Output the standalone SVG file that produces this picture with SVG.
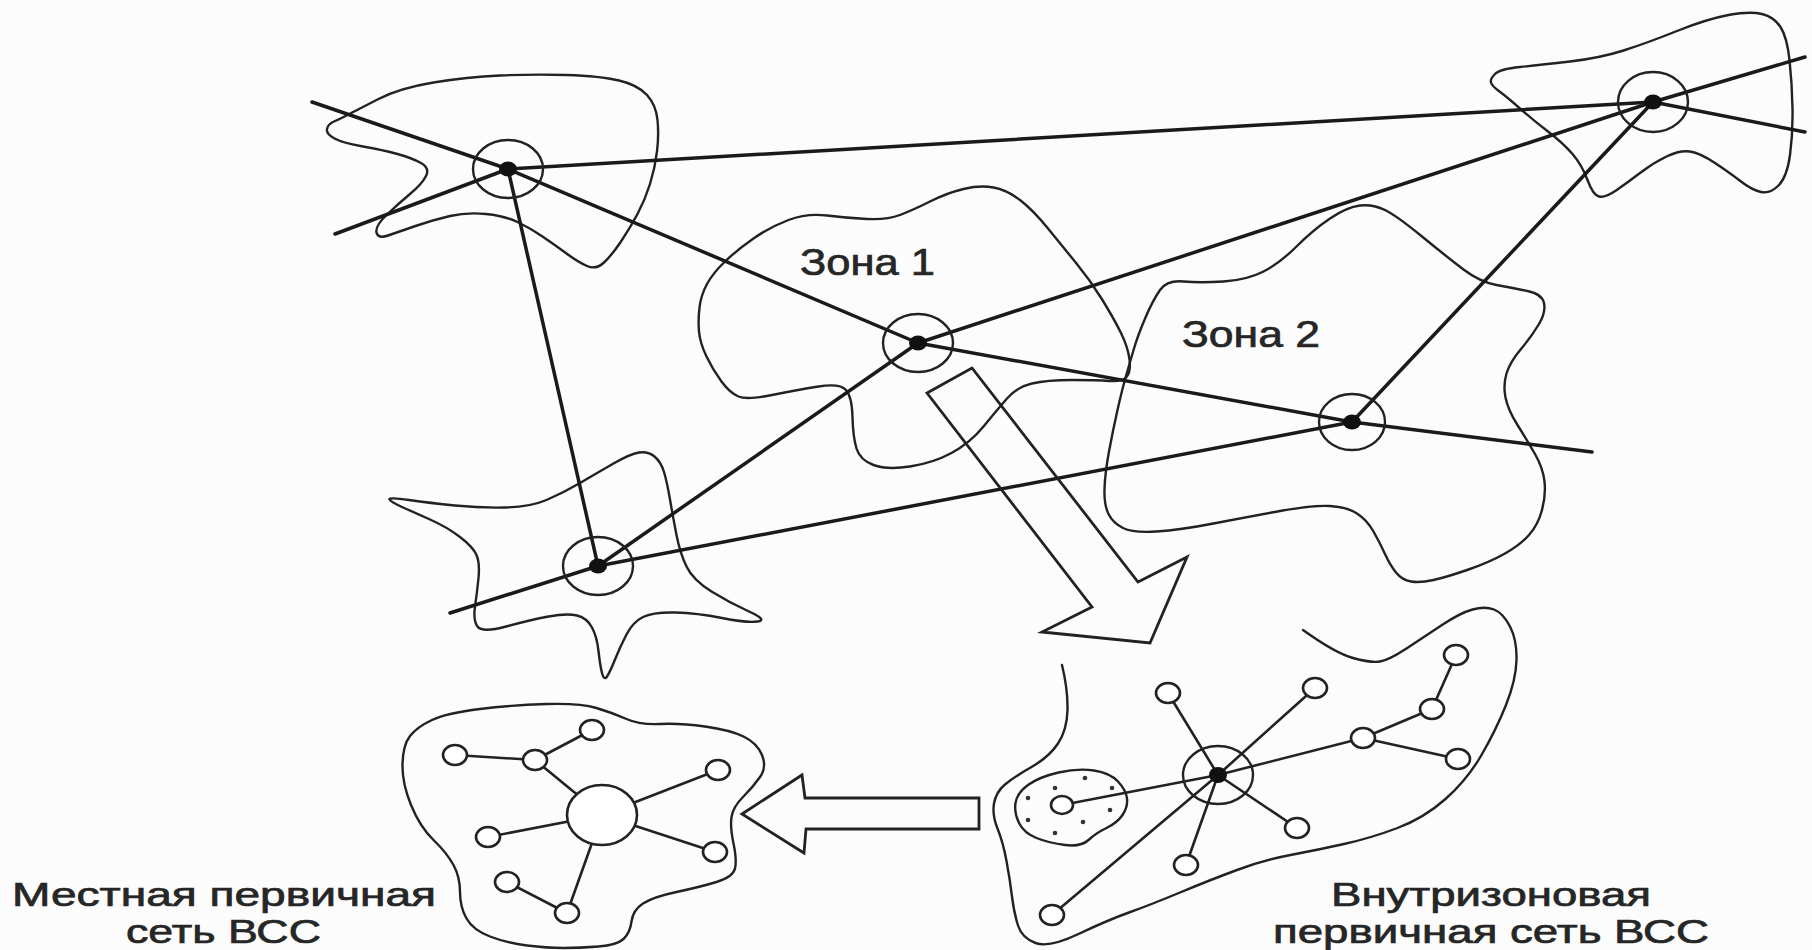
<svg xmlns="http://www.w3.org/2000/svg" width="1812" height="950" viewBox="0 0 1812 950">
<defs>
<style>
.bg{fill:#fcfcfc}
.zone{fill:none;stroke:#222;stroke-width:2.4;stroke-linejoin:round;stroke-linecap:round}
.link{fill:none;stroke:#1a1a1a;stroke-width:3.5;stroke-linecap:round}
.ring{fill:none;stroke:#222;stroke-width:2.4}
.dot{fill:#111}
.net{fill:none;stroke:#222;stroke-width:2.6;stroke-linecap:round}
.sat{fill:#fff;stroke:#222;stroke-width:2.6}
.arrow{fill:none;stroke:#222;stroke-width:2.8;stroke-linejoin:miter}
.pt{fill:#333}
.lbl{font-family:"Liberation Sans",Arial,sans-serif;fill:#262626;stroke:#262626;stroke-width:0.7}
</style>
</defs>
<rect class="bg" x="0" y="0" width="1812" height="950"/>

<g id="zones">
<path id="zone-nw" class="zone" d="M334,121.5 Q340,119 348.5,114.5 Q357,110 378.5,99 Q400,88 433.5,82.5 Q467,77 500,75.5 Q533,74 566.5,75 Q600,76 619,80.5 Q638,85 647,95 Q656,105 657.5,120 Q659,135 657,151.5 Q655,168 650,184 Q645,200 637.5,214 Q630,228 621,241.5 Q612,255 604,262.5 Q596,270 587,266 Q578,262 566.5,253.5 Q555,245 542.5,236.5 Q530,228 517.5,222 Q505,216 486,214 Q467,212 450,216 Q433,220 415.5,226 Q398,232 388,235.5 Q378,239 376.5,232.5 Q375,226 386.5,215 Q398,204 410,194 Q422,184 426,176 Q430,168 421,163 Q412,158 397.5,154 Q383,150 363,146.5 Q343,143 334.5,138.5 Q326,134 327,129 Q328,124 334,121.5 Z"/>
<path id="zone-ne" class="zone" d="M1491,82.5 Q1490,79 1495,74 Q1500,69 1520,67 Q1540,65 1570,61.5 Q1600,58 1623.5,50.5 Q1647,43 1677,31 Q1707,19 1728.5,15 Q1750,11 1762,14 Q1774,17 1780.5,27 Q1787,37 1789.5,60 Q1792,83 1792.5,108 Q1793,133 1790,155 Q1787,177 1778.5,185.5 Q1770,194 1761,192 Q1752,190 1741,181.5 Q1730,173 1715,163 Q1700,153 1690,151.5 Q1680,150 1666.5,156.5 Q1653,163 1640,173 Q1627,183 1616,190.5 Q1605,198 1599,196.5 Q1593,195 1587.5,180 Q1582,165 1572.5,154 Q1563,143 1548,131.5 Q1533,120 1520,108.5 Q1507,97 1499.5,91.5 Q1492,86 1491,82.5 Z"/>
<path id="zone-1" class="zone" d="M699,331.5 Q698,320 699.5,307.5 Q701,295 707,284 Q713,273 725,261.5 Q737,250 753.5,238.5 Q770,227 788.5,220 Q807,213 827,215.5 Q847,218 867,219 Q887,220 900,215 Q913,210 930,201.5 Q947,193 963.5,189 Q980,185 993.5,187.5 Q1007,190 1020,200 Q1033,210 1048,228.5 Q1063,247 1076.5,263.5 Q1090,280 1101.5,298.5 Q1113,317 1120.5,332 Q1128,347 1129.5,359.5 Q1131,372 1126.5,377 Q1122,382 1109.5,381 Q1097,380 1072,380 Q1047,380 1032,383.5 Q1017,387 1007,398.5 Q997,410 983.5,426.5 Q970,443 951.5,453 Q933,463 910,466.5 Q887,470 873.5,465 Q860,460 856.5,448.5 Q853,437 852.5,417 Q852,397 846,390 Q840,383 818.5,386.5 Q797,390 772,395 Q747,400 738.5,396.5 Q730,393 721.5,381.5 Q713,370 706.5,356.5 Q700,343 699,331.5 Z"/>
<path id="zone-2" class="zone" d="M1160,290 Q1167,280 1183.5,281.5 Q1200,283 1223.5,281.5 Q1247,280 1263.5,271.5 Q1280,263 1296.5,246.5 Q1313,230 1330,218.5 Q1347,207 1360,205.5 Q1373,204 1385,210 Q1397,216 1422,236.5 Q1447,257 1463.5,269.5 Q1480,282 1496.5,285 Q1513,288 1527.5,291 Q1542,294 1544,303 Q1546,312 1539,324 Q1532,336 1521,349 Q1510,362 1506.5,373.5 Q1503,385 1505.5,397.5 Q1508,410 1517.5,425 Q1527,440 1535,454 Q1543,468 1544.5,481.5 Q1546,495 1542,510 Q1538,525 1529,535 Q1520,545 1505,553.5 Q1490,562 1468.5,569.5 Q1447,577 1433.5,580 Q1420,583 1411,581.5 Q1402,580 1396,572.5 Q1390,565 1385,554 Q1380,543 1373.5,531.5 Q1367,520 1357,513.5 Q1347,507 1330,506 Q1313,505 1280,511 Q1247,517 1213.5,523.5 Q1180,530 1156.5,531.5 Q1133,533 1123,528 Q1113,523 1108.5,514 Q1104,505 1104.5,489 Q1105,473 1109,451.5 Q1113,430 1117.5,410 Q1122,390 1126,376 Q1130,362 1134,348.5 Q1138,335 1145.5,317.5 Q1153,300 1160,290 Z"/>
<path id="zone-star" class="zone" d="M389.5,499.5 Q388,497 409,500 Q430,503 455,505.5 Q480,508 505,507.5 Q530,507 546.5,500 Q563,493 580,483 Q597,473 613.5,463.5 Q630,454 639,452.5 Q648,451 654.5,456.5 Q661,462 664,472 Q667,482 670,499.5 Q673,517 676.5,535 Q680,553 686.5,566.5 Q693,580 711.5,591.5 Q730,603 749,611.5 Q768,620 757.5,621.5 Q747,623 722,618 Q697,613 675,612.5 Q653,612 643,617 Q633,622 626.5,634.5 Q620,647 615,659.5 Q610,672 607,676.5 Q604,681 602,673 Q600,665 598.5,651 Q597,637 592,627.5 Q587,618 577,615.5 Q567,613 548.5,616.5 Q530,620 506,626.5 Q482,633 477.5,626.5 Q473,620 475,606.5 Q477,593 478.5,578 Q480,563 476.5,555 Q473,547 460,537 Q447,527 430,519.5 Q413,512 402,507 Q391,502 389.5,499.5 Z"/>
</g>

<g id="connectors">
<line class="link" x1="312" y1="102" x2="508" y2="169"/>
<line class="link" x1="335" y1="234" x2="508" y2="169"/>
<line class="link" x1="508" y1="169" x2="1653" y2="102"/>
<line class="link" x1="508" y1="169" x2="598" y2="566"/>
<line class="link" x1="508" y1="169" x2="918" y2="343"/>
<line class="link" x1="918" y1="343" x2="1653" y2="102"/>
<line class="link" x1="918" y1="343" x2="1352" y2="422"/>
<line class="link" x1="1352" y1="422" x2="1592" y2="452"/>
<line class="link" x1="1352" y1="422" x2="1653" y2="102"/>
<line class="link" x1="598" y1="566" x2="918" y2="343"/>
<line class="link" x1="598" y1="566" x2="1352" y2="422"/>
<line class="link" x1="450" y1="613" x2="598" y2="566"/>
<line class="link" x1="1653" y1="102" x2="1805" y2="57"/>
<line class="link" x1="1653" y1="102" x2="1805" y2="132"/>
</g>

<g id="node-nw"><ellipse class="ring" cx="508" cy="169" rx="35" ry="29"/><ellipse class="dot" cx="508" cy="169" rx="9" ry="7.5"/></g>
<g id="node-zone1"><ellipse class="ring" cx="918" cy="343" rx="35" ry="29"/><ellipse class="dot" cx="918" cy="343" rx="9" ry="7.5"/></g>
<g id="node-zone2"><ellipse class="ring" cx="1352" cy="422" rx="33" ry="28"/><ellipse class="dot" cx="1352" cy="422" rx="9" ry="7.5"/></g>
<g id="node-star"><ellipse class="ring" cx="598" cy="566" rx="35" ry="29"/><ellipse class="dot" cx="598" cy="566" rx="9" ry="7.5"/></g>
<g id="node-ne"><ellipse class="ring" cx="1653" cy="102" rx="35" ry="30"/><ellipse class="dot" cx="1653" cy="102" rx="9" ry="7.5"/></g>

<g id="arrow-down">
<polygon class="arrow" points="927,393 972,368 1138,582 1187,557 1150,643 1042,632 1092,607"/>
</g>
<g id="arrow-left">
<polygon class="arrow" points="742,814 802,775 805,798 979,798 979,829 806,829 804,853"/>
</g>

<g id="local-net">
<path class="zone" d="M402.5,764 Q403,745 410,736 Q417,727 432,720 Q447,713 480,709 Q513,705 546.5,704 Q580,703 596.5,708 Q613,713 626.5,719 Q640,725 660,724 Q680,723 705,726.5 Q730,730 743.5,736.5 Q757,743 762,755 Q767,767 760,777 Q753,787 743,797 Q733,807 731.5,817 Q730,827 733.5,843.5 Q737,860 735,868.5 Q733,877 716.5,882 Q700,887 676.5,892 Q653,897 643,903.5 Q633,910 631.5,921.5 Q630,933 623.5,939 Q617,945 598.5,946.5 Q580,948 563.5,948 Q547,948 527,945.5 Q507,943 490,936.5 Q473,930 466.5,918.5 Q460,907 460,892 Q460,877 453.5,865 Q447,853 433.5,840 Q420,827 411,805 Q402,783 402.5,764 Z"/>
<g class="net">
<line x1="455" y1="755" x2="535" y2="760"/>
<line x1="535" y1="760" x2="592" y2="730"/>
<line x1="535" y1="760" x2="602" y2="815"/>
<line x1="602" y1="815" x2="718" y2="770"/>
<line x1="602" y1="815" x2="488" y2="837"/>
<line x1="602" y1="815" x2="715" y2="852"/>
<line x1="602" y1="815" x2="567" y2="913"/>
<line x1="507" y1="882" x2="567" y2="913"/>
</g>
<ellipse class="sat" cx="602" cy="815" rx="35" ry="30"/>
<ellipse class="sat" cx="455" cy="755" rx="12" ry="10"/>
<ellipse class="sat" cx="535" cy="760" rx="12" ry="10"/>
<ellipse class="sat" cx="592" cy="730" rx="12" ry="10"/>
<ellipse class="sat" cx="718" cy="770" rx="12" ry="10"/>
<ellipse class="sat" cx="488" cy="837" rx="12" ry="10"/>
<ellipse class="sat" cx="715" cy="852" rx="12" ry="10"/>
<ellipse class="sat" cx="507" cy="882" rx="12" ry="10"/>
<ellipse class="sat" cx="567" cy="913" rx="12" ry="10"/>
</g>

<g id="intrazone-net">
<path class="zone" d="M1062,665 Q1068,690 1067.5,710 Q1067,730 1058,743.5 Q1049,757 1031.5,767 Q1014,777 1005,784.5 Q996,792 994,803.5 Q992,815 997.5,828.5 Q1003,842 1006.5,861 Q1010,880 1012,896.5 Q1014,913 1018,925.5 Q1022,938 1035.5,943 Q1049,948 1078.5,934 Q1108,920 1129,912.5 Q1150,905 1180,892.5 Q1210,880 1237,870 Q1264,860 1290.5,855 Q1317,850 1344,844 Q1371,838 1397.5,828 Q1424,818 1445.5,799 Q1467,780 1481.5,755 Q1496,730 1506,705 Q1516,680 1516.5,660 Q1517,640 1510,626.5 Q1503,613 1494,609.5 Q1485,606 1472.5,609.5 Q1460,613 1442,625 Q1424,637 1406.5,648.5 Q1389,660 1380,661.5 Q1371,663 1353,658 Q1335,653 1303,630"/>
<path class="zone" d="M1015.5,803 Q1017,793 1028,785 Q1039,777 1058.5,772.5 Q1078,768 1094,770.5 Q1110,773 1118,781.5 Q1126,790 1127,798.5 Q1128,807 1122.5,815 Q1117,823 1106.5,828 Q1096,833 1088.5,840 Q1081,847 1065,845 Q1049,843 1036.5,838 Q1024,833 1019,823 Q1014,813 1015.5,803 Z"/>
<g>
<circle class="pt" cx="1028" cy="798" r="2.3"/>
<circle class="pt" cx="1055" cy="788" r="2.3"/>
<circle class="pt" cx="1085" cy="778" r="2.3"/>
<circle class="pt" cx="1112" cy="788" r="2.3"/>
<circle class="pt" cx="1110" cy="810" r="2.3"/>
<circle class="pt" cx="1083" cy="822" r="2.3"/>
<circle class="pt" cx="1055" cy="833" r="2.3"/>
<circle class="pt" cx="1028" cy="820" r="2.3"/>
</g>
<g class="net">
<line x1="1218" y1="775" x2="1168" y2="693"/>
<line x1="1218" y1="775" x2="1315" y2="688"/>
<line x1="1218" y1="775" x2="1363" y2="738"/>
<line x1="1363" y1="738" x2="1432" y2="709"/>
<line x1="1432" y1="709" x2="1456" y2="655"/>
<line x1="1363" y1="738" x2="1458" y2="759"/>
<line x1="1218" y1="775" x2="1297" y2="828"/>
<line x1="1218" y1="775" x2="1186" y2="865"/>
<line x1="1218" y1="775" x2="1052" y2="915"/>
<line x1="1218" y1="775" x2="1062" y2="805"/>
</g>
<ellipse class="ring" cx="1218" cy="775" rx="35" ry="29"/>
<ellipse class="dot" cx="1218" cy="775" rx="9" ry="8"/>
<ellipse class="sat" cx="1168" cy="693" rx="12" ry="10"/>
<ellipse class="sat" cx="1315" cy="688" rx="12" ry="10"/>
<ellipse class="sat" cx="1363" cy="738" rx="12" ry="10"/>
<ellipse class="sat" cx="1432" cy="709" rx="12" ry="10"/>
<ellipse class="sat" cx="1456" cy="655" rx="12" ry="10"/>
<ellipse class="sat" cx="1458" cy="759" rx="12" ry="10"/>
<ellipse class="sat" cx="1297" cy="828" rx="12" ry="10"/>
<ellipse class="sat" cx="1186" cy="865" rx="12" ry="10"/>
<ellipse class="sat" cx="1052" cy="915" rx="12" ry="10"/>
<ellipse class="sat" cx="1062" cy="805" rx="11" ry="9"/>
</g>

<g id="labels">
<text class="lbl" x="800" y="275" font-size="37" textLength="135" lengthAdjust="spacingAndGlyphs">Зона 1</text>
<text class="lbl" x="1182" y="347" font-size="37" textLength="138" lengthAdjust="spacingAndGlyphs">Зона 2</text>
<text class="lbl" x="12" y="906" font-size="33" textLength="424" lengthAdjust="spacingAndGlyphs">Местная первичная</text>
<text class="lbl" x="126" y="943" font-size="33" textLength="195" lengthAdjust="spacingAndGlyphs">сеть ВСС</text>
<text class="lbl" x="1331" y="906" font-size="33" textLength="320" lengthAdjust="spacingAndGlyphs">Внутризоновая</text>
<text class="lbl" x="1273" y="943" font-size="33" textLength="436" lengthAdjust="spacingAndGlyphs">первичная сеть ВСС</text>
</g>
</svg>
